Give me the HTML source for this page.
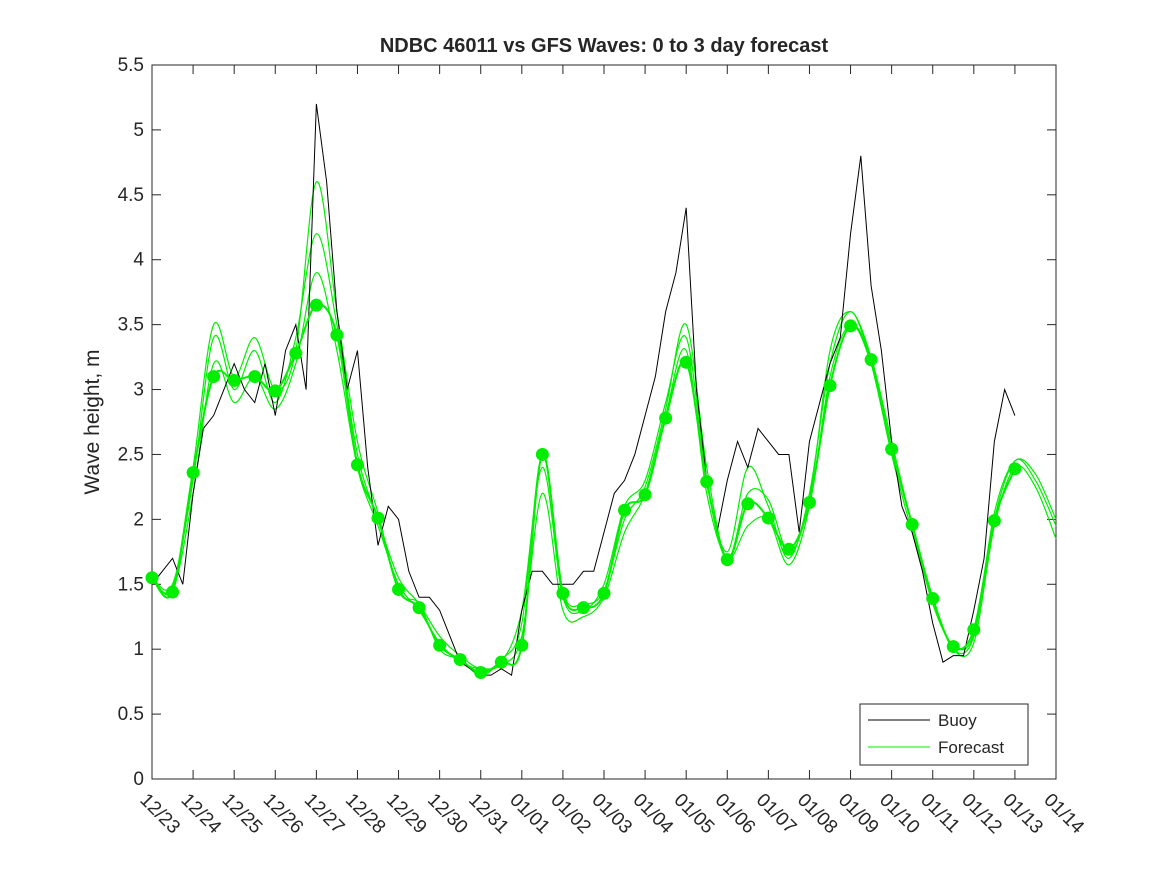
<!DOCTYPE html>
<html><head><meta charset="utf-8"><style>
body{margin:0;background:#fff;}
svg text{font-family:"Liberation Sans",sans-serif;fill:#262626;}
</style></head><body>
<svg id="chart" width="1167" height="875" xmlns="http://www.w3.org/2000/svg">
<rect x="0" y="0" width="1167" height="875" fill="#fff"/>
<text x="604" y="52" text-anchor="middle" font-size="20" font-weight="bold" fill="#000">NDBC 46011 vs GFS Waves: 0 to 3 day forecast</text>
<text transform="translate(99,422) rotate(-90)" text-anchor="middle" font-size="21">Wave height, m</text>
<g id="plot"></g>
</svg>
<script>
const xLabels=["12/23","12/24","12/25","12/26","12/27","12/28","12/29","12/30","12/31","01/01","01/02","01/03","01/04","01/05","01/06","01/07","01/08","01/09","01/10","01/11","01/12","01/13","01/14"];
const yTicks=[0,0.5,1,1.5,2,2.5,3,3.5,4,4.5,5,5.5];
const buoy=[1.5,1.6,1.7,1.5, 2.2,2.7,2.8,3.0, 3.2,3.0,2.9,3.2, 2.8,3.3,3.5,3.0, 5.2,4.6,3.6,3.0, 3.3,2.4,1.8,2.1, 2.0,1.6,1.4,1.4, 1.3,1.1,0.9,0.85, 0.8,0.8,0.85,0.8, 1.3,1.6,1.6,1.5, 1.5,1.5,1.6,1.6, 1.9,2.2,2.3,2.5, 2.8,3.1,3.6,3.9, 4.4,3.0,2.3,1.9, 2.3,2.6,2.4,2.7, 2.6,2.5,2.5,1.9, 2.6,2.9,3.2,3.4, 4.2,4.8,3.8,3.3, 2.6,2.1,1.9,1.6, 1.2,0.9,0.95,0.95, 1.3,1.7,2.6,3.0, 2.8];
const dots=[1.55,1.44,2.36,3.1,3.07,3.1,2.99,3.28,3.65,3.42,2.42,2.01,1.46,1.32,1.03,0.92,0.82,0.9,1.03,2.5,1.43,1.32,1.43,2.07,2.19,2.78,3.21,2.29,1.69,2.12,2.01,1.77,2.13,3.03,3.49,3.23,2.54,1.96,1.39,1.02,1.15,1.99,2.39];
const fc1=[1.55,1.5,2.3,3.4,3.0,3.3,2.9,3.4,4.2,3.5,2.5,2.0,1.55,1.35,1.1,0.95,0.85,0.9,1.3,2.4,1.4,1.3,1.5,2.1,2.3,2.9,3.4,2.3,1.75,2.4,2.1,1.7,2.2,3.2,3.6,3.2,2.5,1.9,1.4,1.0,1.1,2.0,2.45,2.3,1.95];
const fc2=[1.55,1.45,2.2,3.2,2.9,3.1,2.85,3.2,3.9,3.3,2.4,1.95,1.5,1.3,1.05,0.9,0.85,0.88,1.1,2.2,1.3,1.25,1.4,1.9,2.2,2.8,3.3,2.2,1.7,1.95,2.0,1.65,2.1,3.1,3.5,3.2,2.55,1.95,1.4,1.0,1.05,1.95,2.4,2.25,1.85];
const fc3=[1.55,1.48,2.4,3.5,3.1,3.4,3.0,3.3,4.6,3.6,2.6,2.05,1.45,1.35,1.0,0.92,0.8,0.92,1.2,2.5,1.45,1.35,1.45,2.0,2.25,2.85,3.5,2.4,1.7,2.2,2.15,1.75,2.15,3.3,3.6,3.25,2.6,1.95,1.35,1.03,1.12,2.05,2.45,2.35,2.0];
const X0=152,X1=1056,Y0=779,Y1=65;
const xs=d=>X0+d*(X1-X0)/22, ys=v=>Y0-v*(Y0-Y1)/5.5;
const NS="http://www.w3.org/2000/svg",g=document.getElementById('plot');
function mk(t,a){const e=document.createElementNS(NS,t);for(const k in a)e.setAttribute(k,a[k]);g.appendChild(e);return e;}
let e=mk('rect',{x:X0,y:Y1,width:X1-X0,height:Y0-Y1,fill:'#fff',stroke:'#262626','stroke-width':1});

yTicks.forEach(v=>{const y=ys(v);
 mk('line',{x1:X0,x2:X0+9,y1:y,y2:y,stroke:'#262626'});mk('line',{x1:X1,x2:X1-9,y1:y,y2:y,stroke:'#262626'});
 const t=mk('text',{x:X0-8,y:y+6,'text-anchor':'end','font-size':19});t.textContent=String(v);
 });
xLabels.forEach((l,i)=>{const x=xs(i);
 mk('line',{x1:x,x2:x,y1:Y0,y2:Y0-9,stroke:'#262626'});mk('line',{x1:x,x2:x,y1:Y1,y2:Y1+9,stroke:'#262626'});
 const t=mk('text',{transform:`translate(${x-13},${Y0+22}) rotate(45)`,'font-size':19});t.textContent=l;
 });
function smooth(pts){let d=`M${pts[0][0]},${pts[0][1]}`;for(let i=0;i<pts.length-1;i++){const p0=pts[i-1]||pts[i],p1=pts[i],p2=pts[i+1],p3=pts[i+2]||p2;
 d+=` C${p1[0]+(p2[0]-p0[0])/6},${p1[1]+(p2[1]-p0[1])/6} ${p2[0]-(p3[0]-p1[0])/6},${p2[1]-(p3[1]-p1[1])/6} ${p2[0]},${p2[1]}`;}return d;}
[fc1,fc2,fc3].forEach(f=>{const p=mk('path',{d:smooth(f.map((v,i)=>[xs(i*0.5),ys(v)])),fill:'none',stroke:'#00ee00','stroke-width':1.2});
 });
const bl=mk('polyline',{points:buoy.map((v,i)=>`${xs(i*0.25)},${ys(v)}`).join(' '),fill:'none',stroke:'#000','stroke-width':1});

const dl=mk('path',{d:smooth(dots.map((v,i)=>[xs(i*0.5),ys(v)])),fill:'none',stroke:'#00ee00','stroke-width':2});

dots.forEach((v,i)=>{const c=mk('circle',{cx:xs(i*0.5),cy:ys(v),r:6.5,fill:'#00ee00'});
 });
const lg=mk('rect',{x:860,y:704,width:168,height:61,fill:'#fff',stroke:'#262626'});

mk('line',{x1:868,x2:930,y1:720,y2:720,stroke:'#000'});mk('line',{x1:868,x2:930,y1:747,y2:747,stroke:'#00ee00'});
let t1=mk('text',{x:938,y:726,'font-size':17});t1.textContent='Buoy';
let t2=mk('text',{x:938,y:753,'font-size':17});t2.textContent='Forecast';
</script>
</body></html>
